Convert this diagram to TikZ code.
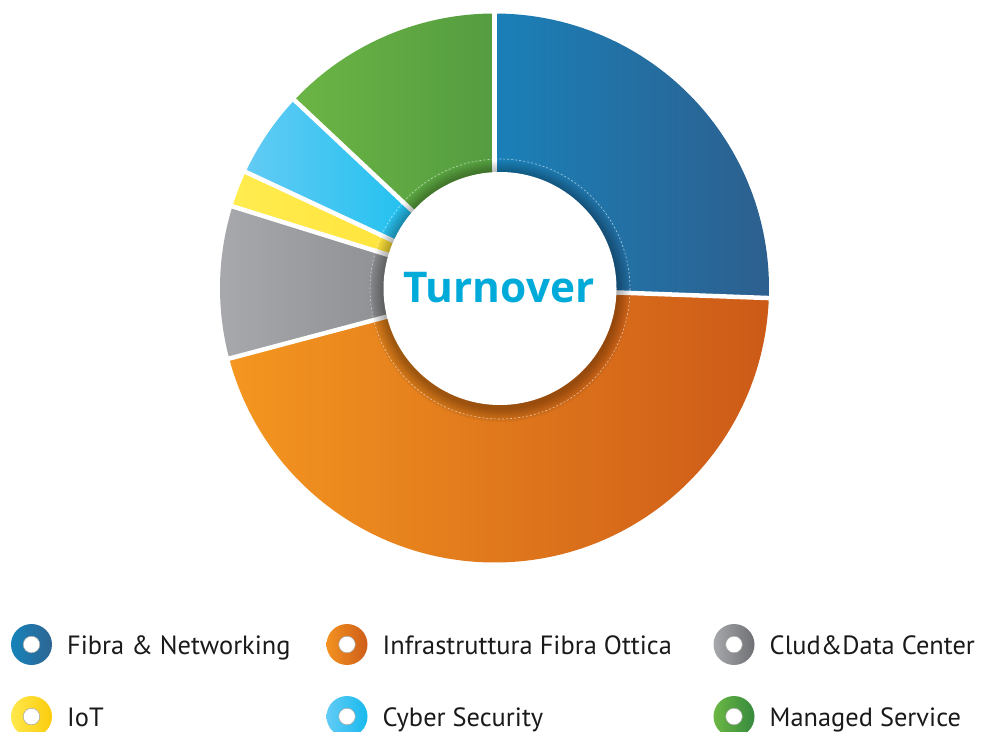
\documentclass[tikz,border=0pt]{standalone}
\usepackage{fontspec}
\setmainfont{PT Sans}
\newfontfamily\turnfont{Open Sans}
\definecolor{blueL}{HTML}{1A80B8}
\definecolor{blueR}{HTML}{2D5F8E}
\definecolor{orangeL}{HTML}{F49620}
\definecolor{orangeR}{HTML}{CC5A18}
\definecolor{grayL}{HTML}{A7A9AC}
\definecolor{grayR}{HTML}{8D8E91}
\definecolor{yellowL}{HTML}{FFEC4F}
\definecolor{yellowR}{HTML}{FFE33B}
\definecolor{cyanL}{HTML}{62CBF4}
\definecolor{cyanR}{HTML}{1DC0EF}
\definecolor{greenL}{HTML}{6BB545}
\definecolor{greenR}{HTML}{549C40}
\definecolor{iblueL}{HTML}{1583BA}
\definecolor{iblueR}{HTML}{2E6593}
\definecolor{iorangeL}{HTML}{F39220}
\definecolor{iorangeR}{HTML}{CE5D1A}
\definecolor{igrayL}{HTML}{A6A8AB}
\definecolor{igrayR}{HTML}{6F7073}
\definecolor{iyellowL}{HTML}{FFE84C}
\definecolor{iyellowR}{HTML}{FCCC0C}
\definecolor{icyanL}{HTML}{62CCF5}
\definecolor{icyanR}{HTML}{18B9EE}
\definecolor{igreenL}{HTML}{6CB745}
\definecolor{igreenR}{HTML}{368A3D}
\definecolor{turncol}{HTML}{00AAD9}
\definecolor{legtext}{HTML}{1A1A1A}
\newcommand\donutsector[4]{%
  \shade[left color=#3,right color=#4] (#1:95) -- (#1:274.5)
    arc[start angle=#1,end angle=#2,radius=274.5] -- (#2:95)
    arc[start angle=#2,end angle=#1,radius=95] -- cycle;}
\newcommand\legicon[5]{%
  \shade[left color=#3,right color=#4] (#1,#2) circle[radius=20.5];
  \filldraw[fill=white,draw=gray!70,line width=0.5bp] (#1,#2) circle[radius=8.3];
  \coordinate (#5) at ({#1+35.5},{#2+10});}
\begin{document}
\begin{tikzpicture}[x=1bp,y=-1bp,
  legend label/.style={anchor=base west,inner sep=0pt,text=legtext,font=\fontsize{26.5}{28}\selectfont},
  gapline/.style={white,line width=4.5bp}]
\useasboundingbox (0,0) rectangle (985,732);
\begin{scope}[shift={(494.5,288)},yscale=-1]
  \donutsector{90}{-2.1}{blueL}{blueR}
  \donutsector{-2.1}{-165.1}{orangeL}{orangeR}
  \donutsector{194.9}{162.7}{grayL}{grayR}
  \donutsector{162.7}{155.0}{yellowL}{yellowR}
  \donutsector{155.0}{136.8}{cyanL}{cyanR}
  \donutsector{136.8}{90}{greenL}{greenR}
  \foreach \a in {90,-2.1,194.9,162.7,155.0,136.8}
    \draw[gapline] (0,0) -- (\a:280);
\end{scope}
% inner shadow
\foreach \r in {118,...,131}
  \fill[black,opacity=0.023] (500,291.5) circle[radius=\r];
\draw[white,opacity=0.6,line width=0.6bp,dash pattern=on 2bp off 2bp] (500,289) circle[radius=130];
\fill[white] (500,288.5) circle[radius=116.5];
\node[anchor=base,inner sep=0pt,text=turncol,font=\turnfont\bfseries\fontsize{42.5}{45}\selectfont] (title) at (499,302) {Turnover};
% legend
\legicon{31.5}{644.5}{iblueL}{iblueR}{l1}
\legicon{347}{644.5}{iorangeL}{iorangeR}{l2}
\legicon{734}{644.5}{igrayL}{igrayR}{l3}
\legicon{31.5}{716.5}{iyellowL}{iyellowR}{l4}
\legicon{347}{716.5}{icyanL}{icyanR}{l5}
\legicon{734}{716.5}{igreenL}{igreenR}{l6}
\node[legend label] (t1) at (l1) {Fibra \& Networking};
\node[legend label] (t2) at (l2) {Infrastruttura Fibra Ottica};
\node[legend label] (t3) at (l3) {Clud\&Data Center};
\node[legend label] (t4) at (l4) {IoT};
\node[legend label] (t5) at (l5) {Cyber Security};
\node[legend label] (t6) at (l6) {Managed Service};
\end{tikzpicture}
\end{document}
